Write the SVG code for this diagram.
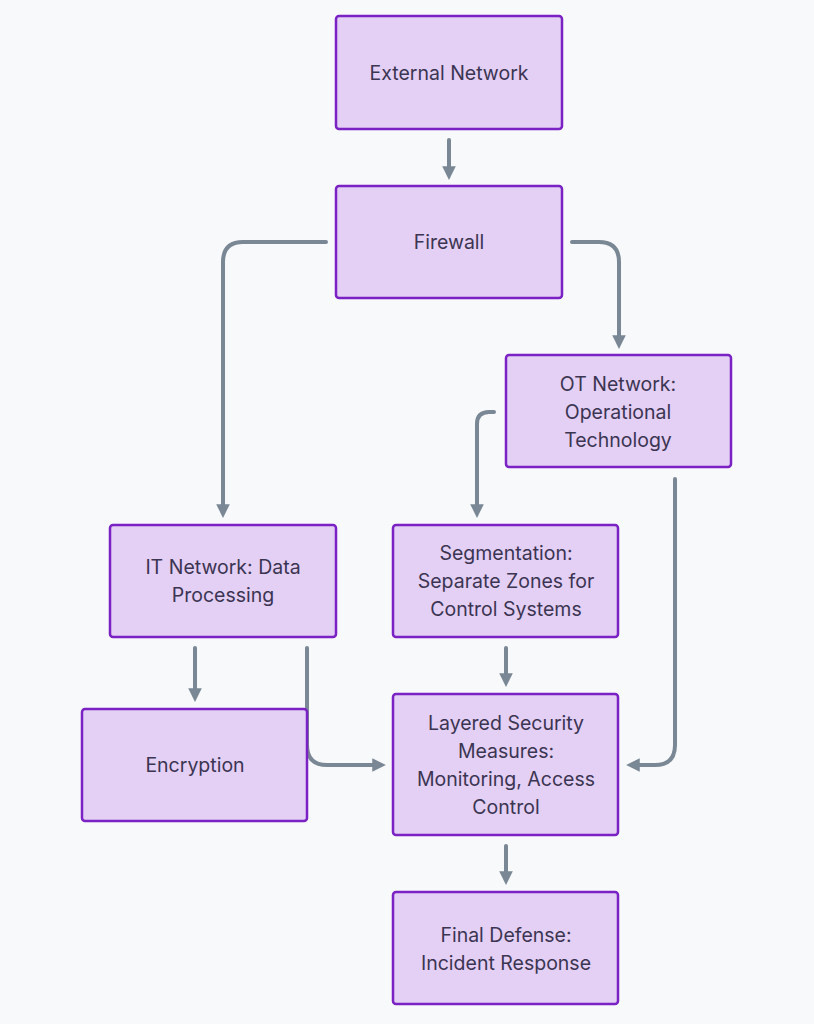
<svg xmlns="http://www.w3.org/2000/svg" width="814" height="1024" viewBox="0 0 814 1024">
<style>
.node rect{fill:#e4cff5;stroke:#7a22c4;stroke-width:2.5}
.node text{font-family:Inter,"Noto Sans","DejaVu Sans",sans-serif;font-size:19.5px;fill:#3b3552;text-anchor:middle;dominant-baseline:central}
.edge{fill:none;stroke:#7a8794;stroke-width:4;stroke-linecap:round;stroke-linejoin:round}
</style>
<defs>
<marker id="arr" viewBox="0 0 10 10" refX="2" refY="5" markerWidth="3.4" markerHeight="3.4" orient="auto" markerUnits="strokeWidth">
<path d="M0,0 L10,5 L0,10 z" fill="#7a8794"/>
</marker>
</defs>
<rect width="814" height="1024" fill="#f8f9fb"/>
<g id="connectors">
<path class="edge" marker-end="url(#arr)" d="M449,140 V169"/>
<path class="edge" marker-end="url(#arr)" d="M326,242 H243 Q223,242 223,262 V507"/>
<path class="edge" marker-end="url(#arr)" d="M572,242 H599 Q619,242 619,262 V338"/>
<path class="edge" marker-end="url(#arr)" d="M494,412 H489 Q477,412 477,424 V507"/>
<path class="edge" marker-end="url(#arr)" d="M675,479 V745 Q675,765 655,765 H637"/>
<path class="edge" marker-end="url(#arr)" d="M195,648 V691"/>
<path class="edge" marker-end="url(#arr)" d="M307,648 V745 Q307,765 327,765 H375"/>
<path class="edge" marker-end="url(#arr)" d="M506,648 V676"/>
<path class="edge" marker-end="url(#arr)" d="M506,846 V874"/>
</g>
<g id="external" class="node"><rect x="336" y="16" width="226" height="113" rx="3"/><text x="449" y="73">External Network</text></g>
<g id="firewall" class="node"><rect x="336" y="186" width="226" height="112" rx="3"/><text x="449" y="242">Firewall</text></g>
<g id="ot" class="node"><rect x="506" y="355" width="225" height="112" rx="3"/><text x="618" y="384">OT Network:</text><text x="618" y="412">Operational</text><text x="618" y="440">Technology</text></g>
<g id="it" class="node"><rect x="110" y="525" width="226" height="112" rx="3"/><text x="223" y="567">IT Network: Data</text><text x="223" y="595">Processing</text></g>
<g id="seg" class="node"><rect x="393" y="525" width="225" height="112" rx="3"/><text x="506" y="553">Segmentation:</text><text x="506" y="581">Separate Zones for</text><text x="506" y="609">Control Systems</text></g>
<g id="enc" class="node"><rect x="82" y="709" width="225" height="112" rx="3"/><text x="195" y="765">Encryption</text></g>
<g id="layered" class="node"><rect x="393" y="694" width="225" height="141" rx="3"/><text x="506" y="723">Layered Security</text><text x="506" y="751">Measures:</text><text x="506" y="779">Monitoring, Access</text><text x="506" y="807">Control</text></g>
<g id="final" class="node"><rect x="393" y="892" width="225" height="112" rx="3"/><text x="506" y="935">Final Defense:</text><text x="506" y="963">Incident Response</text></g>
</svg>
